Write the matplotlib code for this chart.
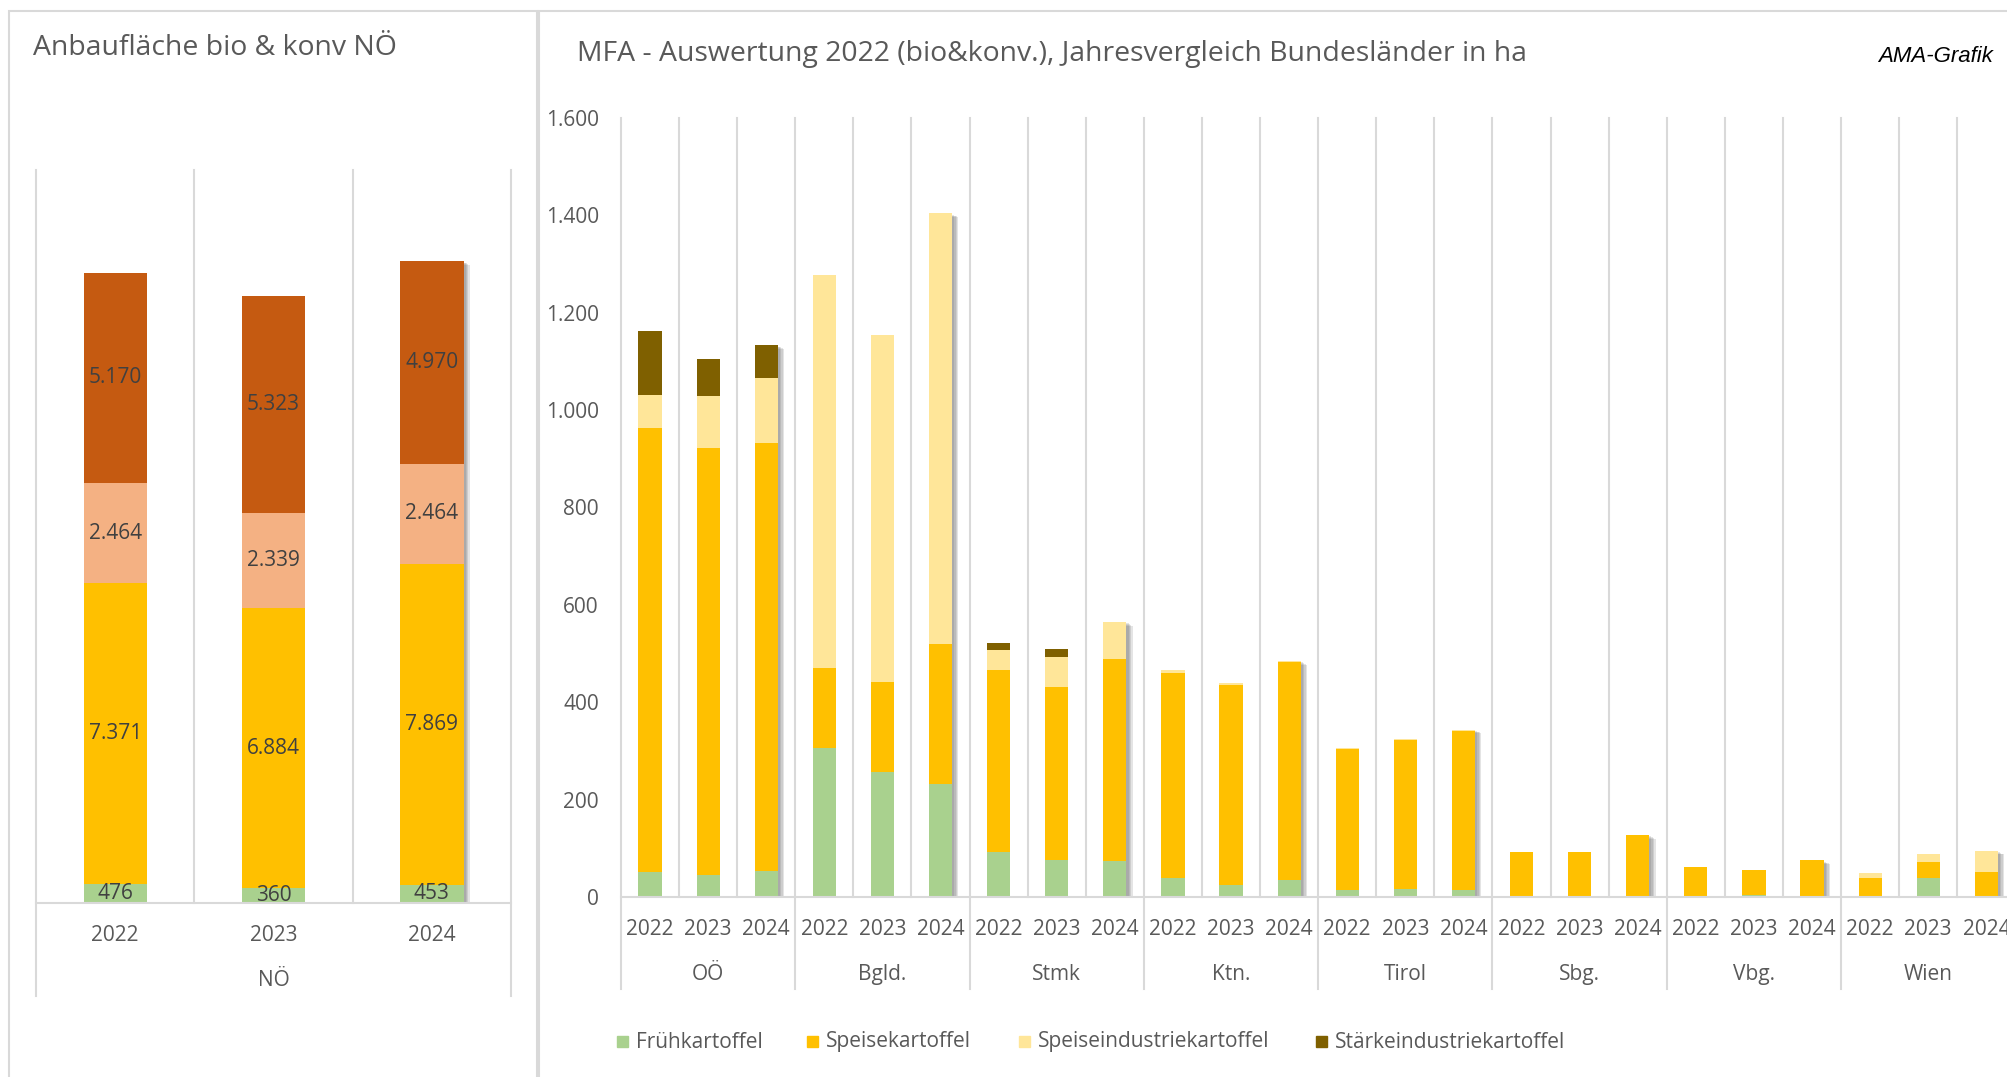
import matplotlib
matplotlib.use('Agg')
import matplotlib.pyplot as plt
import matplotlib.patheffects as pe
import matplotlib.transforms as mtransforms
from matplotlib.patches import Rectangle

plt.rcParams['font.family'] = ['Open Sans', 'DejaVu Sans']

# ---------------- data ----------------
years = ['2022', '2023', '2024']
series = ['Frühkartoffel', 'Speisekartoffel', 'Speiseindustriekartoffel', 'Stärkeindustriekartoffel']

# left panel: Niederösterreich
noe_frueh = [476, 360, 453]
noe_speise = [7371, 6884, 7869]
noe_speiseind = [2464, 2339, 2464]
noe_staerke = [5170, 5323, 4970]

# right panel: other Bundesländer, 2022/2023/2024 per state
states = ['OÖ', 'Bgld.', 'Stmk', 'Ktn.', 'Tirol', 'Sbg.', 'Vbg.', 'Wien']
bl_frueh = [52, 46, 53, 306, 256, 233, 93, 75, 73, 39, 25, 34,
            14, 16, 14, 0, 0, 0, 3, 5, 2, 0, 38, 0]
bl_speise = [912, 876, 880, 164, 186, 286, 373, 357, 415, 421, 410, 449,
             291, 306, 326, 92, 93, 127, 59, 51, 73, 39, 33, 51]
bl_speiseind = [67, 108, 133, 808, 713, 885, 41, 61, 76, 6, 4, 2,
                2, 2, 4, 0, 0, 0, 0, 0, 0, 11, 17, 44]
bl_staerke = [131, 74, 67, 0, 0, 0, 15, 16, 1, 0, 0, 0,
              0, 0, 0, 0, 0, 0, 0, 0, 0, 0, 0, 0]
y_ticks = [0, 200, 400, 600, 800, 1000, 1200, 1400, 1600]

# ---------------- style ----------------
W, H = 2008, 1077
GRID = '#D9D9D9'
TXT = '#595959'
LBL = '#404040'
left_colors = ['#A9D18E', '#FFC000', '#F4B183', '#C55A11']
right_colors = ['#A9D18E', '#FFC000', '#FFE699', '#7F6000']
# soft drop shadow (Excel style) built from a few faint layers
shadow = [pe.SimplePatchShadow(offset=(o, -o * 0.6), shadow_rgbFace='0.35', alpha=0.16)
          for o in (1.5, 2.5, 3.5, 4.5)]


def px_box(x0, y0, x1, y1):
    # pixel box (top-left origin) -> figure fraction rect
    return [x0 / W, 1 - y1 / H, (x1 - x0) / W, (y1 - y0) / H]


def stack(ax, x, layers, colors, width, shadow_idx):
    bottoms = [0] * len(x)
    totals = [sum(v) for v in zip(*layers)]
    for i in shadow_idx:
        ax.bar(x[i], totals[i], width, color='none', path_effects=shadow, zorder=1)
    bars = []
    for vals, c in zip(layers, colors):
        b = ax.bar(x, vals, width, bottom=bottoms, color=c, zorder=2)
        bars.append(b)
        bottoms = [b0 + v for b0, v in zip(bottoms, vals)]
    return bars


def de_num(v):
    return '{:,}'.format(int(v)).replace(',', '.')


fig = plt.figure(figsize=(W / 100, H / 100), dpi=100)

# panel frames
for box in [(9, 11, 537, 1100), (539, 11, 2040, 1100)]:
    fig.patches.append(Rectangle((box[0] / W, 1 - box[3] / H), (box[2] - box[0]) / W,
                                 (box[3] - box[1]) / H, transform=fig.transFigure,
                                 fill=False, edgecolor=GRID, lw=1.5))

# ---------------- left chart ----------------
axl = fig.add_axes(px_box(36, 170, 511, 903))
xl = list(range(len(years)))
layers_l = [noe_frueh, noe_speise, noe_speiseind, noe_staerke]
stack(axl, xl, layers_l, left_colors, 0.4, [2])
axl.set_xlim(-0.5, 2.5)
axl.set_ylim(0, 18000)
axl.set_yticks([])
for s in ['top', 'left', 'right']:
    axl.spines[s].set_visible(False)
axl.spines['bottom'].set_color(GRID)
axl.spines['bottom'].set_linewidth(1.5)
axl.set_xticks(xl, years)
axl.tick_params(axis='x', length=0, pad=16, labelsize=15, labelcolor=TXT)
trl = mtransforms.blended_transform_factory(axl.transData, axl.transAxes)
for b in [-0.5, 0.5, 1.5, 2.5]:
    lo = -0.127 if b in (-0.5, 2.5) else 0
    axl.plot([b, b], [lo, 1], transform=trl, color=GRID, lw=1.5, clip_on=False, zorder=0)
axl.text(1, -0.106, 'NÖ', transform=trl, ha='center', va='center', fontsize=15, color=TXT)
for i in xl:
    base = 0
    for vals in layers_l:
        axl.text(i, base + vals[i] / 2, de_num(vals[i]), ha='center', va='center',
                 fontsize=15, color=LBL, zorder=3)
        base += vals[i]

fig.text(33 / W, 1 - 48 / H, 'Anbaufläche bio & konv NÖ', fontsize=20.4, color=TXT,
         ha='left', va='center')

# ---------------- right chart ----------------
n = len(bl_frueh)
axr = fig.add_axes(px_box(621, 118, 621 + 58.1 * n, 897))
xr = list(range(n))
layers_r = [bl_frueh, bl_speise, bl_speiseind, bl_staerke]
stack(axr, xr, layers_r, right_colors, 0.4, [i for i in xr if i % 3 == 2])
axr.set_xlim(-0.5, n - 0.5)
axr.set_ylim(0, 1600)
axr.set_yticks(y_ticks, [de_num(v) for v in y_ticks])
for s in ['top', 'left', 'right']:
    axr.spines[s].set_visible(False)
axr.spines['bottom'].set_color(GRID)
axr.spines['bottom'].set_linewidth(1.5)
axr.set_xticks(xr, years * len(states))
axr.tick_params(axis='x', length=0, pad=16, labelsize=15, labelcolor=TXT)
axr.tick_params(axis='y', length=0, pad=16, labelsize=15, labelcolor=TXT)
trr = mtransforms.blended_transform_factory(axr.transData, axr.transAxes)
for k in range(n + 1):
    lo = -0.118 if k % 3 == 0 else 0
    axr.plot([k - 0.5, k - 0.5], [lo, 1], transform=trr, color=GRID, lw=1.5,
             clip_on=False, zorder=0)
for g, st in enumerate(states):
    axr.text(3 * g + 1, -0.100, st, transform=trr, ha='center', va='center',
             fontsize=15, color=TXT)

fig.text(577 / W, 1 - 54 / H,
         'MFA - Auswertung 2022 (bio&konv.), Jahresvergleich Bundesländer in ha',
         fontsize=20.4, color=TXT, ha='left', va='center')
fig.text(1993 / W, 1 - 57 / H, 'AMA-Grafik', fontsize=16, style='italic',
         family='Liberation Sans', color='black', ha='right', va='center')

# legend
leg_x = [617, 807, 1019, 1316]
for lx, name, c in zip(leg_x, series, right_colors):
    fig.patches.append(Rectangle((lx / W, 1 - 1047 / H), 11 / W, 11 / H,
                                 transform=fig.transFigure, color=c))
    fig.text((lx + 19) / W, 1 - 1042 / H, name, fontsize=15, color=TXT,
             ha='left', va='center')

fig.savefig('out.png', dpi=100)
